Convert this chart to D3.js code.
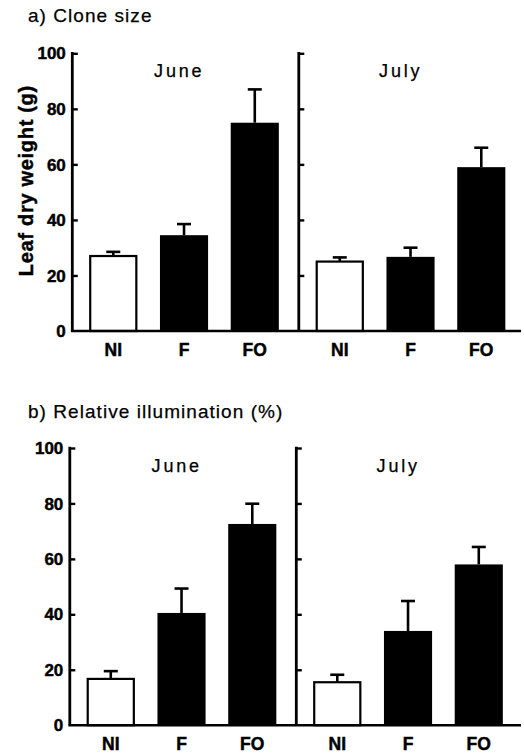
<!DOCTYPE html>
<html>
<head>
<meta charset="utf-8">
<script src="https://cdn.jsdelivr.net/npm/d3@7"></script>
<style>
  html, body { margin: 0; padding: 0; background: #fff; }
  svg { display: block; }
  text { font-family: "Liberation Sans", Arial, Helvetica, sans-serif; fill: #000; }
  .bold { font-weight: bold; stroke: #000; stroke-width: 0.45px; }
  .plain { stroke: #000; stroke-width: 0.25px; }
</style>
</head>
<body>
<svg id="chart" width="524" height="754"></svg>
<script>
// ---- data ----
const treatments = ["NI", "F", "FO"];
const months = ["June", "July"];
const yTicks = [0, 20, 40, 60, 80, 100];

// a) Clone size: leaf dry weight (g)
const cloneJune = [27, 34.5, 75];
const cloneJuneSE = [1.5, 4, 12];
const cloneJuly = [25, 26.7, 59];
const cloneJulySE = [1.5, 3.3, 7];

// b) Relative illumination (%)
const illumJune = [16.7, 40.5, 72.6];
const illumJuneSE = [2.8, 8.8, 7.3];
const illumJuly = [15.5, 34, 58];
const illumJulySE = [2.7, 10.8, 6.3];

const svg = d3.select("#chart");

function drawPanel(opt) {
  const g = svg.append("g");
  const y = d3.scaleLinear().domain([0, 100]).range([opt.y0, opt.y100]);
  const axisX = [opt.x0, opt.x0 + 226.5];
  const monthData = [
    { name: months[0], vals: opt.june, se: opt.juneSE },
    { name: months[1], vals: opt.july, se: opt.julySE }
  ];

  // title
  g.append("text").attr("class", "plain")
    .attr("x", 28).attr("y", opt.titleY)
    .style("font-size", "19px").style("letter-spacing", "1.05px")
    .text(opt.title);

  monthData.forEach((m, mi) => {
    const ax = axisX[mi];
    const x = d3.scaleBand().domain(treatments)
      .range([ax + 5.6, ax + 5.6 + 212.25])
      .paddingInner(0.32).paddingOuter(0.16);

    // bars
    g.selectAll(null).data(treatments).enter().append("rect")
      .attr("x", (d, i) => x(d) + (i === 0 ? 1 : 0))
      .attr("width", (d, i) => x.bandwidth() - (i === 0 ? 2 : 0))
      .attr("y", (d, i) => y(m.vals[i]))
      .attr("height", (d, i) => y(0) - y(m.vals[i]))
      .attr("fill", (d, i) => i === 0 ? "#fff" : "#000")
      .attr("stroke", "#000")
      .attr("stroke-width", (d, i) => i === 0 ? 2.2 : 0);

    // error bars (upper only)
    const eb = g.selectAll(null).data(treatments).enter().append("g");
    eb.append("line")
      .attr("x1", d => x(d) + x.bandwidth() / 2)
      .attr("x2", d => x(d) + x.bandwidth() / 2)
      .attr("y1", (d, i) => y(m.vals[i]))
      .attr("y2", (d, i) => y(m.vals[i] + m.se[i]))
      .attr("stroke", "#000").attr("stroke-width", 2.6);
    eb.append("line")
      .attr("x1", d => x(d) + x.bandwidth() / 2 - 7)
      .attr("x2", d => x(d) + x.bandwidth() / 2 + 7)
      .attr("y1", (d, i) => y(m.vals[i] + m.se[i]))
      .attr("y2", (d, i) => y(m.vals[i] + m.se[i]))
      .attr("stroke", "#000").attr("stroke-width", 2.6);

    // category labels
    g.selectAll(null).data(treatments).enter().append("text")
      .attr("class", "bold")
      .attr("x", d => x(d) + x.bandwidth() / 2)
      .attr("y", y(0) + 24.5)
      .attr("text-anchor", "middle")
      .style("font-size", "17.5px")
      .text(d => d);

    // month label
    g.append("text").attr("class", "plain")
      .attr("x", ax + (mi === 0 ? 105.5 + 1.4 : 100.5 + 1.4))
      .attr("y", opt.monthY)
      .attr("text-anchor", "middle")
      .style("font-size", "18px").style("letter-spacing", "2.8px")
      .text(m.name);

    // vertical axis with inward ticks
    const yAxis = d3.axisRight(y).tickValues(yTicks).tickSize(5.5).tickFormat("");
    const ag = g.append("g").attr("transform", `translate(${ax},0)`).call(yAxis);
    ag.select(".domain").remove();
    ag.selectAll(".tick line").attr("stroke", "#000").attr("stroke-width", 2.4);
    ag.selectAll(".tick").filter(d => d === 0).remove();
    g.append("line")
      .attr("x1", ax).attr("x2", ax)
      .attr("y1", y(100) - 1.2).attr("y2", y(0))
      .attr("stroke", "#000").attr("stroke-width", 2.8);
  });

  // tick labels on the left axis
  g.selectAll(null).data(yTicks).enter().append("text")
    .attr("class", "bold")
    .attr("x", axisX[0] - 6.5)
    .attr("y", d => y(d))
    .attr("dy", "0.36em")
    .attr("text-anchor", "end")
    .style("font-size", "17px")
    .text(d => d);

  // baseline
  g.append("line")
    .attr("x1", axisX[0] - 1.4).attr("x2", 521)
    .attr("y1", y(0)).attr("y2", y(0))
    .attr("stroke", "#000").attr("stroke-width", 2.6);

  if (opt.yLabel) {
    g.append("text").attr("class", "bold")
      .attr("transform", `translate(33,${(y(0) + y(100)) / 2 - 11.5}) rotate(-90)`)
      .attr("text-anchor", "middle")
      .style("font-size", "20px")
      .style("letter-spacing", "0.7px")
      .text(opt.yLabel);
  }
}

drawPanel({
  title: "a) Clone size", titleY: 22,
  x0: 72.3, y0: 331, y100: 53.3, monthY: 77.3,
  june: cloneJune, juneSE: cloneJuneSE, july: cloneJuly, julySE: cloneJulySE,
  yLabel: "Leaf dry weight (g)"
});

drawPanel({
  title: "b) Relative illumination (%)", titleY: 417.7,
  x0: 69.8, y0: 725.2, y100: 448, monthY: 472.3,
  june: illumJune, juneSE: illumJuneSE, july: illumJuly, julySE: illumJulySE,
  yLabel: null
});
</script>
</body>
</html>
